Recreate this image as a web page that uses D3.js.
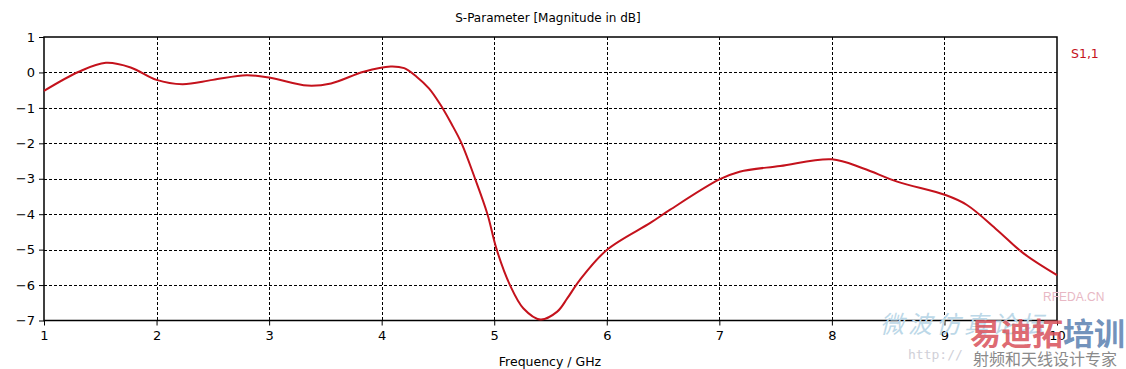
<!DOCTYPE html>
<html>
<head>
<meta charset="utf-8">
<script src="https://cdn.jsdelivr.net/npm/d3@7"></script>
<style>
  html, body { margin: 0; padding: 0; background: #fff; }
  .chart text { font-family: "DejaVu Sans", Tahoma, sans-serif; }
</style>
</head>
<body>
<div class="chart"></div>
<script>
// S11 curve
const freq = [1.0, 1.31, 1.55, 1.77, 2.0, 2.23, 2.5, 2.8, 3.01, 3.34, 3.55, 3.84, 4.08, 4.2, 4.31, 4.42, 4.52, 4.62,
  4.71, 4.83, 4.94, 5.02, 5.14, 5.26, 5.41, 5.56, 5.65, 5.76, 6.0, 6.39, 6.56, 7.0, 7.18, 7.54, 8.0, 8.28, 8.58, 9.01,
  9.2, 9.47, 9.7, 10.0]
const s11 = [-0.52, 0.02, 0.27, 0.14, -0.21, -0.33, -0.21, -0.08, -0.15, -0.37, -0.31, 0.02, 0.17, 0.12, -0.12, -0.45,
  -0.9, -1.45, -2.0, -3.0, -4.0, -4.98, -6.0, -6.66, -6.97, -6.75, -6.37, -5.86, -5.01, -4.24, -3.88, -3.02, -2.8, -2.64,
  -2.45, -2.71, -3.08, -3.46, -3.74, -4.45, -5.1, -5.72]
const xTicks = [1, 2, 3, 4, 5, 6, 7, 8, 9, 10]
const yTicks = [1, 0, -1, -2, -3, -4, -5, -6, -7]

const title = 'S-Parameter [Magnitude in dB]'
const xLabel = 'Frequency / GHz'
const seriesName = 'S1,1'

const W = 1126, H = 369
const margin = {top: 37, right: 69, bottom: 48.5, left: 44}
const width = W - margin.left - margin.right
const height = H - margin.top - margin.bottom

const svg = d3.select('.chart')
  .append('svg')
    .attr('width', W)
    .attr('height', H)

const g = svg.append('g')
  .attr('transform', `translate(${margin.left}, ${margin.top})`)

const xScale = d3.scaleLinear().domain([1, 10]).range([0, width])
const yScale = d3.scaleLinear().domain([-7, 1]).range([height, 0])

// grid, dashed
g.append('g')
  .selectAll('line')
  .data(xTicks.slice(1, -1))
  .enter().append('line')
    .attr('x1', d => Math.round(xScale(d)) + 0.5)
    .attr('x2', d => Math.round(xScale(d)) + 0.5)
    .attr('y1', 0).attr('y2', height)
    .style('stroke', '#000').style('stroke-dasharray', '3,2').style('stroke-width', 1)

g.append('g')
  .selectAll('line')
  .data(yTicks.slice(1, -1))
  .enter().append('line')
    .attr('y1', d => Math.round(yScale(d)) + 0.5)
    .attr('y2', d => Math.round(yScale(d)) + 0.5)
    .attr('x1', 0).attr('x2', width)
    .style('stroke', '#000').style('stroke-dasharray', '3,2').style('stroke-width', 1)

// axes
const xAxis = d3.axisBottom(xScale).tickValues(xTicks).tickSize(5).tickPadding(5).tickFormat(d3.format('d'))
const yAxis = d3.axisLeft(yScale).tickValues(yTicks).tickSize(5).tickPadding(4).tickFormat(d3.format('d'))

const gx = g.append('g')
  .attr('transform', `translate(0, ${height})`)
  .call(xAxis)
const gy = g.append('g').call(yAxis)

;[gx, gy].forEach(a => {
  a.select('.domain').remove()
  a.selectAll('line').style('stroke', '#000')
  a.selectAll('text')
    .style('font-family', '"DejaVu Sans", Tahoma, sans-serif')
    .style('font-size', '13px')
    .style('fill', '#000')
})

// frame
g.append('rect')
  .attr('x', 0).attr('y', 0)
  .attr('width', width).attr('height', height)
  .style('fill', 'none').style('stroke', '#000').style('stroke-width', 1.5)

// curve
const line = d3.line()
  .x((d, i) => xScale(freq[i]))
  .y(d => yScale(d))
  .curve(d3.curveCatmullRom.alpha(0.5))

g.append('path')
  .datum(s11)
  .attr('d', line)
  .style('fill', 'none')
  .style('stroke', '#c4121c')
  .style('stroke-width', 2)

// texts
svg.append('text')
  .attr('x', 548).attr('y', 22)
  .style('text-anchor', 'middle').style('font-size', '12px')
  .text(title)

svg.append('text')
  .attr('x', 550).attr('y', 366)
  .style('text-anchor', 'middle').style('font-size', '12.5px')
  .text(xLabel)

svg.append('text')
  .attr('x', 1071).attr('y', 58)
  .style('font-size', '12.5px').style('fill', '#c4121c')
  .text(seriesName)

// watermark in the corner
const wm = svg.append('g').attr('class', 'watermark')
wm.append('text').attr('x', 1043).attr('y', 301)
  .style('font-family', 'Liberation Sans, sans-serif').style('font-size', '12px').style('fill', '#e8b8c4')
  .text('RFEDA.CN')
wm.append('text').attr('x', 880).attr('y', 333)
  .style('font-family', '"Noto Sans CJK SC"').style('font-size', '24px').style('fill', '#bcd8e8')
  .style('font-style', 'italic').style('letter-spacing', '4px')
  .text('微波仿真论坛')
wm.append('text').attr('x', 908).attr('y', 359)
  .style('font-family', '"DejaVu Sans Mono", monospace').style('font-size', '13px').style('fill', '#d0d0d8')
  .text('http://')
wm.append('text').attr('x', 970).attr('y', 345)
  .style('font-family', '"Noto Sans CJK SC"').style('font-size', '31px').style('font-weight', 'bold')
  .style('fill', '#d8505a').style('fill-opacity', 0.85)
  .text('易迪拓')
wm.append('text').attr('x', 1063).attr('y', 345)
  .style('font-family', '"Noto Sans CJK SC"').style('font-size', '31px').style('font-weight', 'bold')
  .style('fill', '#5a7fb0').style('fill-opacity', 0.85)
  .text('培训')
wm.append('text').attr('x', 973).attr('y', 365)
  .style('font-family', '"Noto Sans CJK SC"').style('font-size', '16px').style('fill', '#8a8a8a')
  .text('射频和天线设计专家')
</script>
</body>
</html>
